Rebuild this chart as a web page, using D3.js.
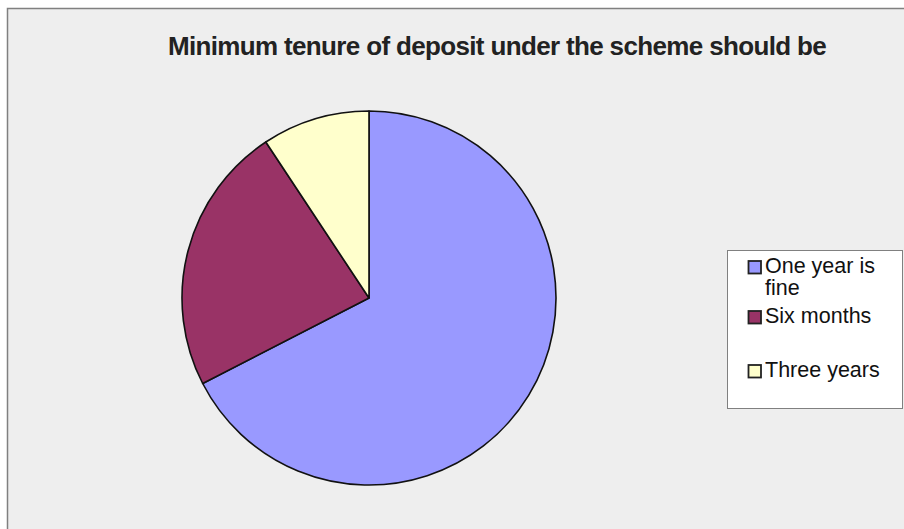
<!DOCTYPE html>
<html>
<head>
<meta charset="utf-8">
<script src="https://cdn.jsdelivr.net/npm/d3@7"></script>
<style>
  html, body { margin: 0; padding: 0; background: #ffffff; }
  svg { display: block; }
</style>
</head>
<body>
<svg id="chart" width="904" height="529"></svg>
<script>
// Survey responses: minimum tenure of deposit
const categories = ["One year is fine", "Six months", "Three years"];
const responses = [29, 10, 4];
const legendLines = [["One year is", "fine"], ["Six months"], ["Three years"]];
const sliceColors = ["#9999ff", "#993366", "#ffffcc"];
const titleText = "Minimum tenure of deposit under the scheme should be";

const svg = d3.select("#chart");

// chart area frame
svg.append("rect")
  .attr("x", 7.5).attr("y", 8.5)
  .attr("width", 920).attr("height", 540)
  .attr("fill", "#eeeeee")
  .attr("stroke", "#808080").attr("stroke-width", 1.5);

svg.append("text")
  .attr("x", 497).attr("y", 55)
  .attr("text-anchor", "middle")
  .attr("font-family", "Liberation Sans, Arial, sans-serif")
  .attr("font-weight", "bold")
  .attr("font-size", 26)
  .attr("letter-spacing", -0.65)
  .attr("fill", "#222222")
  .text(titleText);

// pie
const cx = 369, cy = 298, radius = 187;
const pie = d3.pie().sort(null).value(d => d);
const arc = d3.arc().innerRadius(0).outerRadius(radius);

svg.append("g")
  .attr("transform", `translate(${cx},${cy})`)
  .selectAll("path")
  .data(pie(responses))
  .join("path")
  .attr("d", arc)
  .attr("fill", (d, i) => sliceColors[i])
  .attr("stroke", "#111111")
  .attr("stroke-width", 1.6)
  .attr("stroke-linejoin", "round");

// legend
const legend = svg.append("g");
legend.append("rect")
  .attr("x", 727.5).attr("y", 250.5)
  .attr("width", 175).attr("height", 158)
  .attr("fill", "#ffffff")
  .attr("stroke", "#808080").attr("stroke-width", 1);

const rowY = [273, 323, 377];
const y = d3.scaleOrdinal().domain(categories).range(rowY);

categories.forEach((c, i) => {
  const by = y(c);
  legend.append("rect")
    .attr("x", 748.5).attr("y", by - 12)
    .attr("width", 12.5).attr("height", 12.5)
    .attr("fill", sliceColors[i])
    .attr("stroke", "#222222").attr("stroke-width", 1.8);
  const t = legend.append("text")
    .attr("x", 765).attr("y", by)
    .attr("font-family", "Liberation Sans, Arial, sans-serif")
    .attr("font-size", 21.5)
    .attr("fill", "#111111");
  legendLines[i].forEach((line, j) => {
    t.append("tspan").attr("x", 765).attr("dy", j === 0 ? 0 : 22).text(line);
  });
});
</script>
</body>
</html>
